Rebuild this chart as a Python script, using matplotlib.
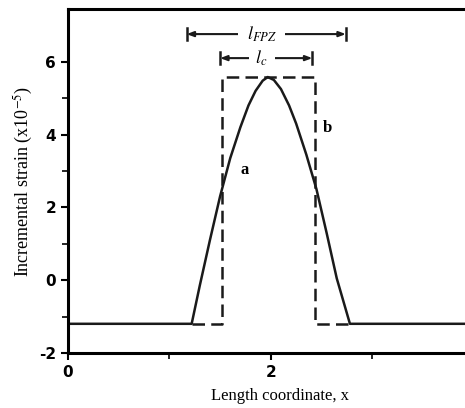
import matplotlib.pyplot as plt

# curve a: strain profile
xa = [0.0, 1.22, 1.30, 1.40, 1.50, 1.60, 1.70, 1.78, 1.85, 1.92, 1.97, 2.03, 2.10, 2.18, 2.25, 2.35, 2.45, 2.55, 2.65, 2.78, 4.2]
ya = [-1.2, -1.2, -0.15, 1.1, 2.3, 3.35, 4.2, 4.8, 5.2, 5.48, 5.58, 5.5, 5.25, 4.8, 4.3, 3.45, 2.5, 1.3, 0.05, -1.2, -1.2]

# curve b: idealised rectangle
xb = [1.22, 1.52, 1.52, 2.44, 2.44, 2.78]
yb = [-1.2, -1.2, 5.58, 5.58, -1.2, -1.2]

# length markers (start, end, height)
l_fpz = (1.17, 2.74, 6.76)
l_c = (1.50, 2.41, 6.10)

xticks = [0, 2]
yticks = [-2, 0, 2, 4, 6]

plt.rcParams['font.family'] = ['Liberation Serif', 'DejaVu Serif']
plt.rcParams['mathtext.fontset'] = 'stix'

fig = plt.figure(figsize=(4.65, 4.08), dpi=100)
# the original axes runs past the right edge of the picture
ax = fig.add_axes([0.146, 0.135, 0.912, 0.843])

ax.plot(xa, ya, color='#1a1a1a', lw=1.8)
ax.plot(xb, yb, color='#1a1a1a', lw=1.8, linestyle=(0, (5, 2.5)))

for x0, x1, y in [l_fpz, l_c]:
	ax.annotate('', xy=(x0, y), xytext=((x0 + x1) / 2, y),
		arrowprops=dict(arrowstyle='-|>,head_length=0.4,head_width=0.15', color='#1a1a1a', lw=1.5, shrinkA=0, shrinkB=0))
	ax.annotate('', xy=(x1, y), xytext=((x0 + x1) / 2, y),
		arrowprops=dict(arrowstyle='-|>,head_length=0.4,head_width=0.15', color='#1a1a1a', lw=1.5, shrinkA=0, shrinkB=0))
	ax.plot([x0, x0], [y - 0.17, y + 0.17], color='#1a1a1a', lw=1.8)
	ax.plot([x1, x1], [y - 0.17, y + 0.17], color='#1a1a1a', lw=1.8)

ax.text(1.91, l_fpz[2], '$l_{FPZ}$', ha='center', va='center', fontsize=13,
	bbox=dict(facecolor='white', edgecolor='none', pad=6))
ax.text(1.91, l_c[2], '$l_c$', ha='center', va='center', fontsize=13,
	bbox=dict(facecolor='white', edgecolor='none', pad=5))

ax.text(1.70, 3.03, 'a', fontsize=12, fontweight='bold', ha='left', va='center')
ax.text(2.51, 4.18, 'b', fontsize=12, fontweight='bold', ha='left', va='center')

ax.set_xlim(0, 4.18)
ax.set_ylim(-2, 7.45)
ax.set_xticks(xticks)
ax.set_xticks([1, 3], minor=True)
ax.set_yticks(yticks)
ax.set_yticks([-1, 1, 3, 5], minor=True)
ax.set_xticklabels([str(t) for t in xticks], fontsize=11, fontweight='bold', fontfamily='DejaVu Sans')
ax.set_yticklabels([str(t) for t in yticks], fontsize=11, fontweight='bold', fontfamily='DejaVu Sans')
ax.tick_params(axis='both', which='major', length=5, width=1.5, direction='out')
ax.tick_params(axis='both', which='minor', length=4, width=1.2, direction='out')

for s in ['left', 'bottom', 'top']:
	ax.spines[s].set_linewidth(2.2)
ax.spines['right'].set_visible(False)

ax.set_xlabel('Length coordinate, x', fontsize=12, labelpad=6)
ax.set_ylabel('Incremental strain (x10$^{-5}$)', fontsize=13, labelpad=3)

fig.savefig('out.png', dpi=100)
